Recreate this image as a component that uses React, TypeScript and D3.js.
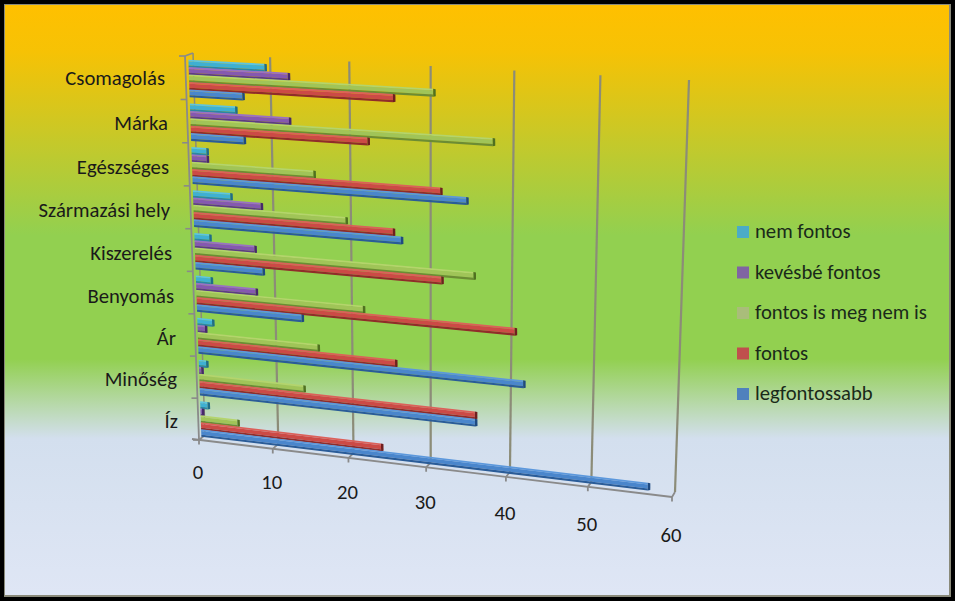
import React from "react";
import * as d3 from "d3";

const categories = ["Csomagolás", "Márka", "Egészséges", "Származási hely", "Kiszerelés", "Benyomás", "Ár", "Minőség", "Íz"];
const seriesNames = ["nem fontos", "kevésbé fontos", "fontos is meg nem is", "fontos", "legfontossabb"];
const nemFontos = [10, 6, 2, 5, 2, 2, 2, 1, 1];
const kevesbeFontos = [13, 13, 2, 9, 8, 8, 1, 0.3, 0.2];
const fontosIsMeg = [31.3, 38.5, 16, 20, 36, 22, 16, 14, 5];
const fontos = [26.3, 23, 32, 26, 32, 41, 26, 36, 24];
const legfontossabb = [7, 7, 35.2, 27, 9, 14, 42, 36, 57];
const seriesValues = [nemFontos, kevesbeFontos, fontosIsMeg, fontos, legfontossabb];
const valueTicks = [0, 10, 20, 30, 40, 50, 60];

const hiColors = ["#5cc4e2", "#9a70c6", "#b4d46c", "#dc605a", "#5c98dc"];
const topColors = ["#3fb0d2", "#8558b0", "#a0c458", "#cc4a46", "#4a86cc"];
const sideColors = ["#2b86a4", "#5c3c84", "#6c8c34", "#902c2a", "#2a5c98"];
const capColors = ["#1f6d88", "#46296a", "#4f7020", "#6f1f1f", "#1f4a80"];
const legendColors = ["#4bacc6", "#8064a2", "#a9bd7a", "#c0504d", "#4f81bd"];

const W = 955;
const H = 601;

type P = [number, number];

function quadMap(a: P, b: P, c: P, d: P) {
  const dx1 = b[0] - c[0], dx2 = d[0] - c[0], sx = a[0] - b[0] + c[0] - d[0];
  const dy1 = b[1] - c[1], dy2 = d[1] - c[1], sy = a[1] - b[1] + c[1] - d[1];
  const den = dx1 * dy2 - dx2 * dy1;
  const g = (sx * dy2 - dx2 * sy) / den;
  const h = (dx1 * sy - sx * dy1) / den;
  const A = b[0] - a[0] + g * b[0], B = d[0] - a[0] + h * d[0], C = a[0];
  const D = b[1] - a[1] + g * b[1], E = d[1] - a[1] + h * d[1], F = a[1];
  return (u: number, w: number): P => {
    const q = g * u + h * w + 1;
    return [(A * u + B * w + C) / q, (D * u + E * w + F) / q];
  };
}

const uScale = d3.scaleLinear().domain([0, 60]).range([0, 1]);
const wBand = d3.scaleBand<string>().domain(categories).range([0, 1]);

const back = quadMap([193, 53], [689, 80], [675, 492], [205, 435]);
const front = quadMap([185, 56], [668, 82], [672, 497], [199, 440]);

function project(v: number, w: number, d: number): P {
  const u = uScale(v);
  const p = back(u, w);
  const q = front(u, w);
  return [p[0] + (q[0] - p[0]) * d, p[1] + (q[1] - p[1]) * d];
}

const polyLine = d3.line<P>().x((p) => p[0]).y((p) => p[1]);
const poly = (pts: P[]) => polyLine(pts) + "Z";

const slotOffset = d3.scaleLinear().domain([0, 4]).range([0.2, 0.88]);
const HALF = 0.09;
const BAR_DEPTH = 0.6;

const bars = categories.flatMap((c, ci) =>
  seriesValues.map((vals, si) => {
    const w = wBand(c)! + wBand.bandwidth() * slotOffset(si);
    const h = wBand.bandwidth() * HALF;
    return { key: `${ci}-${si}`, si, v: vals[ci], w, h };
  })
);

const gridGrey = "#8c8c78";
const axisGrey = "#8a8a8a";
const textFont = "Carlito, Lato, 'Open Sans', 'Liberation Sans', sans-serif";

const catLabelX = [165, 168, 169, 170, 172, 174, 176, 177, 178];
const catLabelDy = [7, 9, 10, 10, 10, 10, 10, 9, 9];
const valLabelDy = 39;

export default function App() {
  return (
    <svg width={W} height={H} viewBox={`0 0 ${W} ${H}`} style={{ position: "absolute", left: 0, top: 0, display: "block" }} fontFamily={textFont}>
      <defs>
        <linearGradient id="bg" x1="0" y1="0" x2="0" y2="1">
          <stop offset="0" stopColor="#ffc000" />
          <stop offset="0.08" stopColor="#f6c205" />
          <stop offset="0.39" stopColor="#92d050" />
          <stop offset="0.60" stopColor="#92d050" />
          <stop offset="0.735" stopColor="#d3dfee" />
          <stop offset="1" stopColor="#dfe6f5" />
        </linearGradient>
      </defs>
      <rect x={0} y={0} width={W} height={H} fill="#000000" />
      <rect x={4} y={4} width={947} height={593} fill="#8a8a7a" />
      <rect x={5} y={5} width={944} height={590} fill="url(#bg)" />

      {valueTicks.map((t) => {
        const a = project(t, 0, 0);
        const b = project(t, 1, 0);
        return <line key={t} x1={a[0]} y1={a[1]} x2={b[0]} y2={b[1]} stroke={gridGrey} strokeWidth={t === 0 ? 1.5 : 2.2} />;
      })}

      {valueTicks.map((t) => {
        const a = project(t, 1, 0);
        const b = project(t, 1, 1);
        const e = project(t, 1, 1.9);
        return <polyline key={t} points={`${a[0]},${a[1]} ${b[0]},${b[1]} ${b[0]},${e[1]}`} fill="none" stroke={axisGrey} strokeWidth={1.8} />;
      })}
      <line x1={project(0, 1, 1)[0] - 7} y1={project(0, 1, 1)[1] - 1} x2={project(60, 1, 1)[0]} y2={project(60, 1, 1)[1]} stroke={axisGrey} strokeWidth={1.8} />

      <line x1={project(0, 0, 1)[0]} y1={project(0, 0, 1)[1]} x2={project(0, 1, 1)[0]} y2={project(0, 1, 1)[1]} stroke={axisGrey} strokeWidth={1.8} />
      <line x1={project(0, 0, 0)[0]} y1={project(0, 0, 0)[1]} x2={project(0, 0, 1)[0]} y2={project(0, 0, 1)[1]} stroke={axisGrey} strokeWidth={1.8} />
      {d3.range(0, 10).map((i) => {
        const p = project(0, i / 9, 1);
        return <line key={i} x1={p[0] - 6} y1={p[1]} x2={p[0]} y2={p[1]} stroke={axisGrey} strokeWidth={1.6} />;
      })}

      {bars.map((b) => {
        const corner = (v: number, f: number) => project(v, b.w + b.h * f, BAR_DEPTH);
        const a0 = corner(0, -1), a1 = corner(b.v, -1);
        const m0 = corner(0, -0.55), m1 = corner(b.v, -0.55);
        const n0 = corner(0, 0.45), n1 = corner(b.v, 0.45);
        const z0 = corner(0, 1), z1 = corner(b.v, 1);
        return (
          <g key={b.key}>
            <path d={poly([a0, a1, m1, m0])} fill={hiColors[b.si]} />
            <path d={poly([m0, m1, n1, n0])} fill={topColors[b.si]} />
            <path d={poly([n0, n1, z1, z0])} fill={sideColors[b.si]} />
            <path d={poly([a1, [a1[0] + 2.5, a1[1] + 0.5], [z1[0] + 2.5, z1[1] - 0.5], z1])} fill={capColors[b.si]} />
          </g>
        );
      })}

      {categories.map((c, i) => {
        const p = project(0, wBand(c)! + wBand.bandwidth() / 2, 1);
        return (
          <text key={c} x={catLabelX[i]} y={p[1] + catLabelDy[i]} textAnchor="end" fontSize={20.7} fill="#1a1a1a">
            {c}
          </text>
        );
      })}

      {valueTicks.map((t) => {
        const p = project(t, 1, 1);
        return (
          <text key={t} x={p[0] - 1} y={p[1] + valLabelDy + t * 0.1} textAnchor="middle" fontSize={20.7} fill="#1a1a1a">
            {t}
          </text>
        );
      })}

      {seriesNames.map((n, i) => {
        const y = 232 + i * 40.5;
        return (
          <g key={n}>
            <rect x={737} y={y - 6} width={12} height={12} fill={legendColors[i]} />
            <text x={755} y={y + 6} fontSize={20.7} fill="#1a2a1a">
              {n}
            </text>
          </g>
        );
      })}
    </svg>
  );
}
